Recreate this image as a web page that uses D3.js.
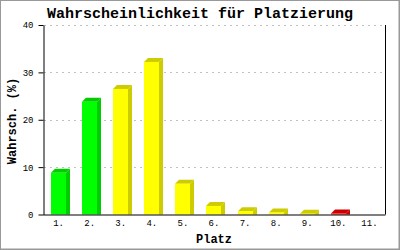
<!DOCTYPE html>
<html><head><meta charset="utf-8">
<script src="https://cdn.jsdelivr.net/npm/d3@7"></script>
<style>
html,body{margin:0;padding:0;background:#fff;}
svg{display:block;}
</style></head>
<body>
<svg id="chart" width="400" height="250"></svg>
<script>
const categories = ["1.","2.","3.","4.","5.","6.","7.","8.","9.","10.","11."];
const values = [8.8, 23.8, 26.5, 32.2, 6.5, 1.8, 0.7, 0.4, 0.15, 0.2, 0];
const groups = ["g","g","y","y","y","y","y","y","y","r","r"];
const yTicks = [0, 10, 20, 30, 40];
const title = "Wahrscheinlichkeit für Platzierung";
const xTitle = "Platz";
const yTitle = "Wahrsch. (%)";

const palette = {
  g: {front:"#00ff00", dark:"#00cc00"},
  y: {front:"#ffff00", dark:"#cccc00"},
  r: {front:"#ff0000", dark:"#cc0000"}
};

const W = 400, H = 250;
const pL = 43, pR = 385, pT = 25, pB = 214.5;
const font = "'Liberation Mono', 'Courier New', monospace";

const svg = d3.select("#chart");
svg.append("rect").attr("x",0.5).attr("y",0.5).attr("width",W-1.5).attr("height",H-1.5)
  .attr("fill","#fff").attr("stroke","#999").attr("stroke-width",1);
svg.append("rect").attr("x",W-1).attr("y",0).attr("width",1).attr("height",H).attr("fill","#999");
svg.append("rect").attr("x",0).attr("y",H-1).attr("width",W).attr("height",1).attr("fill","#999");

const x = d3.scaleBand().domain(categories).range([pL, pR]).paddingInner(0).paddingOuter(0);
const y = d3.scaleLinear().domain([0, 40]).range([pB, pT]);

// grid
svg.append("g").selectAll("line").data(yTicks.filter(d => d > 0)).join("line")
  .attr("x1", pL + 1).attr("x2", pR)
  .attr("y1", d => Math.round(y(d)) + 0.5).attr("y2", d => Math.round(y(d)) + 0.5)
  .attr("stroke", "#c0c0c0").attr("stroke-dasharray", "2,4");

// bars
const bw = 15, depth = 4;
const bars = svg.append("g");
categories.forEach((c, i) => {
  const v = values[i];
  if (v <= 0) return;
  const cx = x(c) + x.bandwidth() / 2;
  const x0 = Math.round(cx - bw / 2);
  const yt = y(v), yb = y(0);
  const col = palette[groups[i]];
  bars.append("polygon")
    .attr("points", [[x0 + bw, yt], [x0 + bw + depth, yt - depth], [x0 + bw + depth, yb], [x0 + bw, yb]].map(p => p.join(",")).join(" "))
    .attr("fill", col.dark);
  bars.append("polygon")
    .attr("points", [[x0, yt], [x0 + depth, yt - depth], [x0 + bw + depth, yt - depth], [x0 + bw, yt]].map(p => p.join(",")).join(" "))
    .attr("fill", col.dark);
  bars.append("rect").attr("x", x0).attr("y", yt).attr("width", bw).attr("height", yb - yt)
    .attr("fill", col.front);
});

// axes
const yAxis = d3.axisLeft(y).tickValues(yTicks).tickSize(5).tickSizeOuter(0).tickPadding(5);
const gy = svg.append("g").attr("transform", `translate(${pL + 0.5},0)`).call(yAxis);
gy.selectAll("text").attr("font-family", font).attr("font-size", 9).attr("fill", "#000");
gy.selectAll("line,path").attr("stroke", "#000");

const xAxis = d3.axisBottom(x).tickSize(0).tickSizeOuter(0).tickPadding(5);
const gx = svg.append("g").attr("transform", `translate(0,${pB})`).call(xAxis);
gx.selectAll("text").attr("font-family", font).attr("font-size", 9).attr("fill", "#000");
gx.selectAll("path").attr("stroke", "#000");

svg.append("line").attr("x1", pR + 0.5).attr("x2", pR + 0.5).attr("y1", pT).attr("y2", pB)
  .attr("stroke", "#000");

// titles
svg.append("text").attr("x", 200).attr("y", 18).attr("text-anchor", "middle")
  .attr("font-family", font).attr("font-weight", "bold").attr("font-size", 15).text(title);
svg.append("text").attr("x", 214).attr("y", 243).attr("text-anchor", "middle")
  .attr("font-family", font).attr("font-weight", "bold").attr("font-size", 12).text(xTitle);
svg.append("text").attr("transform", "translate(16,121) rotate(-90)").attr("text-anchor", "middle")
  .attr("font-family", font).attr("font-weight", "bold").attr("font-size", 12).text(yTitle);
</script>
</body></html>
